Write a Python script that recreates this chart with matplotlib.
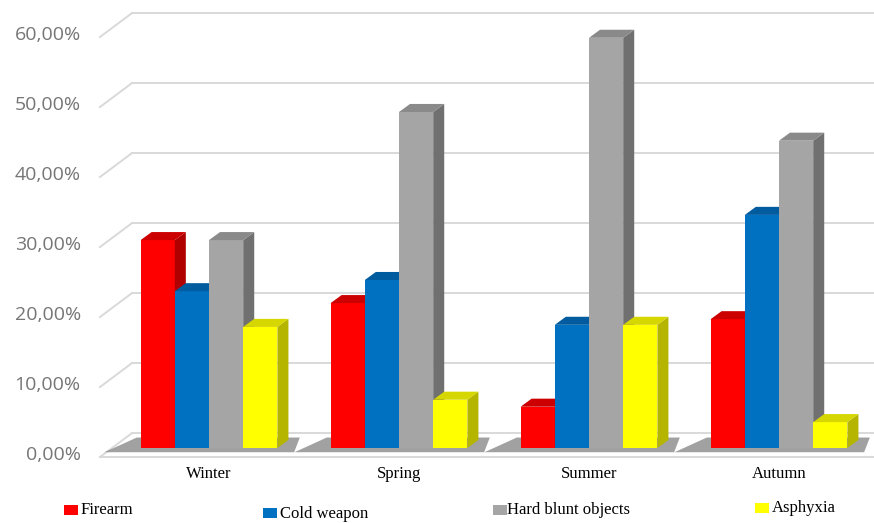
import matplotlib.pyplot as plt
from matplotlib.patches import Polygon, Rectangle

# Share of cases per season and type of weapon (%)
seasons = ['Winter', 'Spring', 'Summer', 'Autumn']
series = ['Firearm', 'Cold weapon', 'Hard blunt objects', 'Asphyxia']
firearm = [29.7, 20.7, 5.9, 18.4]
cold_weapon = [22.4, 24.0, 17.6, 33.3]
hard_blunt = [29.7, 48.0, 58.6, 43.9]
asphyxia = [17.3, 6.9, 17.6, 3.7]
y_ticks = [0, 10, 20, 30, 40, 50, 60]
tick_labels = ['0,00%', '10,00%', '20,00%', '30,00%', '40,00%', '50,00%', '60,00%']

values = [firearm, cold_weapon, hard_blunt, asphyxia]
# front, side, top colours for each series
colors = [('#ff0000', '#b00000', '#cc0000'),
          ('#0070c0', '#00508a', '#005c9e'),
          ('#a5a5a5', '#707070', '#8a8a8a'),
          ('#ffff00', '#b5b500', '#d6d600')]

bar_w = 0.18           # bar width in category units
dx, dy = 0.058, 1.15   # depth offset of the bars
front_dy = -1.29       # front edge of floor / tick plane
back_dx, back_dy = 0.169, 2.14  # back wall position
x_front = -0.574

fig = plt.figure(figsize=(8.74, 5.23), dpi=100)
ax = fig.add_axes([0, 0, 1, 1])
ax.set_xlim(-1.1, 3.5)
ax.set_ylim(-10.71, 64.0)
ax.axis('off')

grid_c = '#d9d9d9'
for v, lab in zip(y_ticks, tick_labels):
    yf = v + front_dy
    ax.plot([x_front, x_front + back_dx], [yf, v + back_dy], color=grid_c, lw=1.4, zorder=1)
    ax.plot([x_front + back_dx, 3.5], [v + back_dy, v + back_dy], color=grid_c, lw=1.4, zorder=1)
    ax.text(-0.675, yf + 0.3, lab, ha='right', va='center', fontsize=14,
            family='Open Sans', color='#767676')
# front edge of the floor
ax.plot([x_front, 3.5], [front_dy, front_dy], color=grid_c, lw=1.4, zorder=1)

for i, season in enumerate(seasons):
    left = i - 2 * bar_w
    right = i + 2 * bar_w
    # floor shadow under the group
    ax.add_patch(Polygon([(left - 0.19, -0.6), (left - 0.02, 1.5),
                          (right + dx + 0.06, 1.5), (right + dx + 0.03, -0.6)],
                         closed=True, facecolor='#7a7a7a', alpha=0.7,
                         edgecolor='none', zorder=2))
    for j in range(len(series)):
        h = values[j][i]
        x0 = left + j * bar_w
        x1 = x0 + bar_w
        front, side, top = colors[j]
        ax.add_patch(Rectangle((x0, 0), bar_w, h, facecolor=front, edgecolor='none', zorder=3))
        ax.add_patch(Polygon([(x1, 0), (x1 + dx, dy), (x1 + dx, h + dy), (x1, h)],
                             closed=True, facecolor=side, edgecolor='none', zorder=3))
        ax.add_patch(Polygon([(x0, h), (x0 + dx, h + dy), (x1 + dx, h + dy), (x1, h)],
                             closed=True, facecolor=top, edgecolor='none', zorder=3))
    ax.text(i, -3.7, season, ha='center', va='center', fontsize=12,
            family='Liberation Serif', color='black')

# legend entries
legend_pos = [(-0.763, -9.57, -0.674, -8.86),
              (0.284, -10.0, 0.374, -9.43),
              (1.495, -9.57, 1.568, -8.86),
              (2.874, -9.29, 2.963, -8.57)]
for (sx, sy, tx, ty), name, c in zip(legend_pos, series, colors):
    ax.add_patch(Rectangle((sx, sy), 0.074, 1.43, facecolor=c[0], edgecolor='none'))
    ax.text(tx, ty, name, ha='left', va='center', fontsize=12,
            family='Liberation Serif', color='black')

fig.savefig('out.png', dpi=100)
